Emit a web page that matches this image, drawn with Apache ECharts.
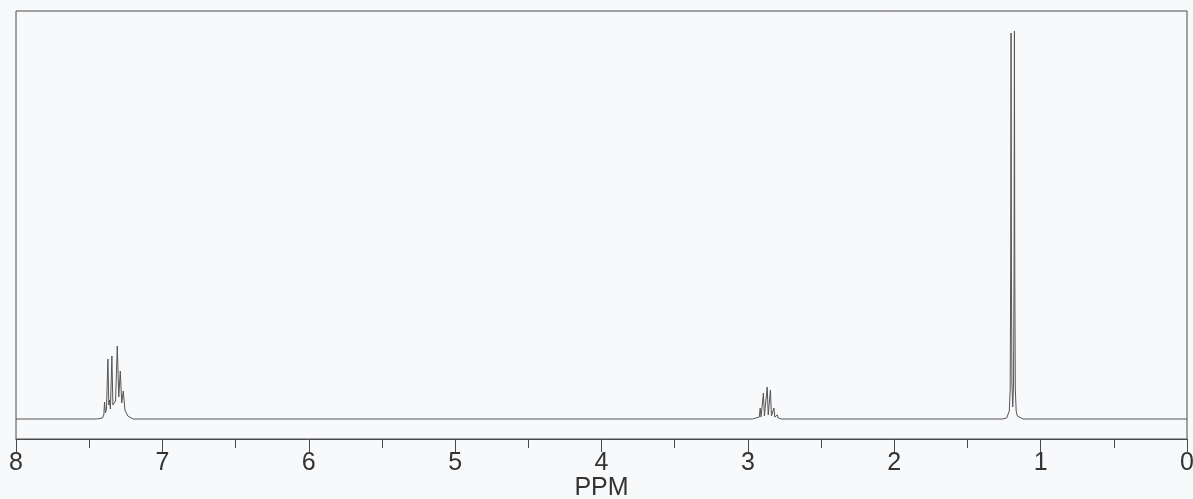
<!DOCTYPE html>
<html>
<head>
<meta charset="utf-8">
<script src="https://cdn.jsdelivr.net/npm/echarts@6/dist/echarts.min.js"></script>
<style>
html,body{margin:0;padding:0;background:#f8f9fb;}
#chart{width:1193px;height:499px;}
</style>
</head>
<body>
<div id="chart"></div>
<script>
// ppm axis ticks
const xTicks = [8, 7, 6, 5, 4, 3, 2, 1, 0];
const xAxisName = 'PPM';

// spectrum points [ppm, intensity]
const baselineStart = [[8.0, 0]];
const aromaticPts = [
  [7.45, 0], [7.41, 1], [7.40, 4], [7.395, 17], [7.389, 6], [7.382, 10], [7.372, 60],
  [7.366, 14], [7.361, 19], [7.355, 10], [7.345, 63], [7.338, 14], [7.330, 12],
  [7.320, 18], [7.308, 73], [7.298, 22], [7.2875, 48], [7.278, 16], [7.267, 28],
  [7.256, 9], [7.244, 11], [7.236, 3], [7.225, 1], [7.20, 0]
];
const methinePts = [
  [2.97, 0], [2.945, 1], [2.939, 3], [2.933, 1], [2.922, 2], [2.916, 11], [2.910, 2],
  [2.901, 3], [2.894, 26], [2.887, 3], [2.878, 4], [2.868, 32], [2.861, 4], [2.854, 4],
  [2.846, 29], [2.839, 3], [2.830, 2], [2.822, 11], [2.816, 2], [2.806, 1], [2.799, 4],
  [2.793, 1], [2.77, 0]
];
const methylPts = [
  [1.26, 0], [1.232, 1], [1.222, 3], [1.214, 8], [1.208, 30], [1.2045, 150], [1.202, 386],
  [1.1995, 150], [1.196, 35], [1.1905, 12], [1.185, 35], [1.1815, 150], [1.179, 388],
  [1.1765, 150], [1.173, 30], [1.167, 8], [1.159, 3], [1.149, 1], [1.12, 0]
];
const baselineEnd = [[0.0, 0]];

const spectrum = [].concat(baselineStart, aromaticPts, methinePts, methylPts, baselineEnd);

const chart = echarts.init(document.getElementById('chart'));
chart.setOption({
  backgroundColor: '#f8f9fb',
  animation: false,
  grid: {
    left: 16, right: 6, top: 11, bottom: 60,
    containLabel: false,
    outerBoundsMode: 'none',
    show: true, borderColor: '#4a4a4a', borderWidth: 1, backgroundColor: 'transparent'
  },
  xAxis: {
    type: 'value',
    inverse: true,
    min: xTicks[xTicks.length - 1],
    max: xTicks[0],
    interval: 1,
    name: xAxisName,
    nameLocation: 'middle',
    nameGap: 37,
    nameMoveOverlap: false,
    nameTextStyle: { fontFamily: 'Liberation Sans', fontSize: 25, color: '#333' },
    axisLine: { show: true, onZero: false, lineStyle: { color: '#4a4a4a', width: 1 } },
    axisTick: { show: true, inside: false, length: 13, lineStyle: { color: '#4a4a4a' } },
    minorTick: { show: true, splitNumber: 2, length: 9, lineStyle: { color: '#4a4a4a' } },
    axisLabel: { margin: 12, fontFamily: 'Liberation Sans', fontSize: 25, color: '#333',
      formatter: v => String(v) },
    splitLine: { show: false },
    minorSplitLine: { show: false }
  },
  yAxis: {
    type: 'value',
    min: -20,
    max: 408,
    show: false,
    splitLine: { show: false }
  },
  series: [{
    type: 'line',
    data: spectrum,
    showSymbol: false,
    symbol: 'none',
    lineStyle: { color: '#555', width: 1 },
    sampling: null
  }]
});
</script>
</body>
</html>
